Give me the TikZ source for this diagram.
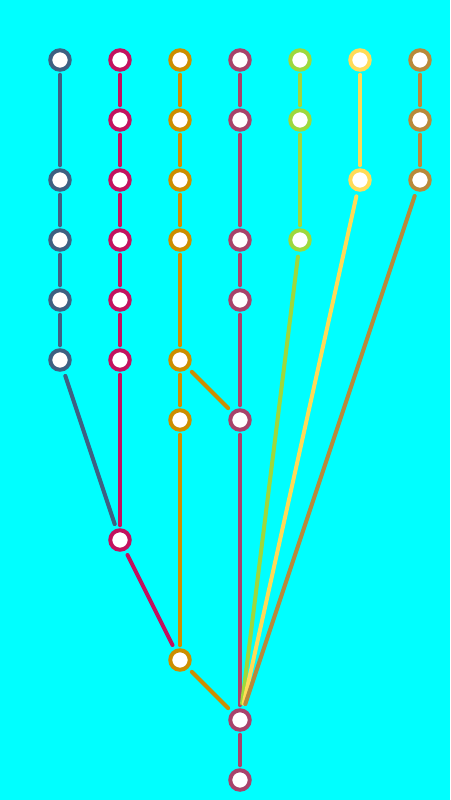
\documentclass[tikz,border=0pt]{standalone}
\definecolor{bg}{HTML}{00FFFF}
\definecolor{cA}{HTML}{3E6082}
\definecolor{cB}{HTML}{C2125E}
\definecolor{cC}{HTML}{CC8E00}
\definecolor{cD}{HTML}{A8436B}
\definecolor{cE}{HTML}{9ED83C}
\definecolor{cF}{HTML}{FFDB58}
\definecolor{cG}{HTML}{B8893A}
\tikzset{
  commit/.style={circle, draw=#1, fill=white, line width=4pt, minimum size=19.5pt, inner sep=0pt},
  edge/.style={draw=#1, line width=4pt, line cap=round, shorten <=3pt, shorten >=3pt},
  diag/.style={draw=#1, line width=4pt, line cap=round, shorten <=5pt, shorten >=5pt},
}
\begin{document}
\begin{tikzpicture}[x=1pt,y=-1pt]
\fill[bg] (0,0) rectangle (450,800);
\useasboundingbox (0,0) rectangle (450,800);
% column A
\node[commit=cA] (a1) at (60,60) {};
\node[commit=cA] (a3) at (60,180) {};
\node[commit=cA] (a4) at (60,240) {};
\node[commit=cA] (a5) at (60,300) {};
\node[commit=cA] (a6) at (60,360) {};
% column B
\node[commit=cB] (b1) at (120,60) {};
\node[commit=cB] (b2) at (120,120) {};
\node[commit=cB] (b3) at (120,180) {};
\node[commit=cB] (b4) at (120,240) {};
\node[commit=cB] (b5) at (120,300) {};
\node[commit=cB] (b6) at (120,360) {};
\node[commit=cB] (b9) at (120,540) {};
% column C
\node[commit=cC] (c1) at (180,60) {};
\node[commit=cC] (c2) at (180,120) {};
\node[commit=cC] (c3) at (180,180) {};
\node[commit=cC] (c4) at (180,240) {};
\node[commit=cC] (c6) at (180,360) {};
\node[commit=cC] (c7) at (180,420) {};
\node[commit=cC] (c11) at (180,660) {};
% column D
\node[commit=cD] (d1) at (240,60) {};
\node[commit=cD] (d2) at (240,120) {};
\node[commit=cD] (d4) at (240,240) {};
\node[commit=cD] (d5) at (240,300) {};
\node[commit=cD] (d7) at (240,420) {};
\node[commit=cD] (d12) at (240,720) {};
\node[commit=cD] (d13) at (240,780) {};
% column E
\node[commit=cE] (e1) at (300,60) {};
\node[commit=cE] (e2) at (300,120) {};
\node[commit=cE] (e4) at (300,240) {};
% column F
\node[commit=cF] (f1) at (360,60) {};
\node[commit=cF] (f3) at (360,180) {};
% column G
\node[commit=cG] (g1) at (420,60) {};
\node[commit=cG] (g2) at (420,120) {};
\node[commit=cG] (g3) at (420,180) {};
% edges
\draw[edge=cA] (a1) -- (a3);
\draw[edge=cA] (a3) -- (a4);
\draw[edge=cA] (a4) -- (a5);
\draw[edge=cA] (a5) -- (a6);
\draw[diag=cA] (a6) -- (b9);
\draw[edge=cB] (b1) -- (b2);
\draw[edge=cB] (b2) -- (b3);
\draw[edge=cB] (b3) -- (b4);
\draw[edge=cB] (b4) -- (b5);
\draw[edge=cB] (b5) -- (b6);
\draw[edge=cB] (b6) -- (b9);
\draw[diag=cB] (b9) -- (c11);
\draw[edge=cC] (c1) -- (c2);
\draw[edge=cC] (c2) -- (c3);
\draw[edge=cC] (c3) -- (c4);
\draw[edge=cC] (c4) -- (c6);
\draw[edge=cC] (c6) -- (c7);
\draw[diag=cC] (c6) -- (d7);
\draw[edge=cC] (c7) -- (c11);
\draw[diag=cC] (c11) -- (d12);
\draw[edge=cD] (d1) -- (d2);
\draw[edge=cD] (d2) -- (d4);
\draw[edge=cD] (d4) -- (d5);
\draw[edge=cD] (d5) -- (d7);
\draw[edge=cD] (d7) -- (d12);
\draw[edge=cD] (d12) -- (d13);
\draw[edge=cE] (e1) -- (e2);
\draw[edge=cE] (e2) -- (e4);
\draw[diag=cE] (e4) -- (d12);
\draw[edge=cF] (f1) -- (f3);
\draw[diag=cF] (f3) -- (d12);
\draw[edge=cG] (g1) -- (g2);
\draw[edge=cG] (g2) -- (g3);
\draw[diag=cG] (g3) -- (d12);
\end{tikzpicture}
\end{document}
